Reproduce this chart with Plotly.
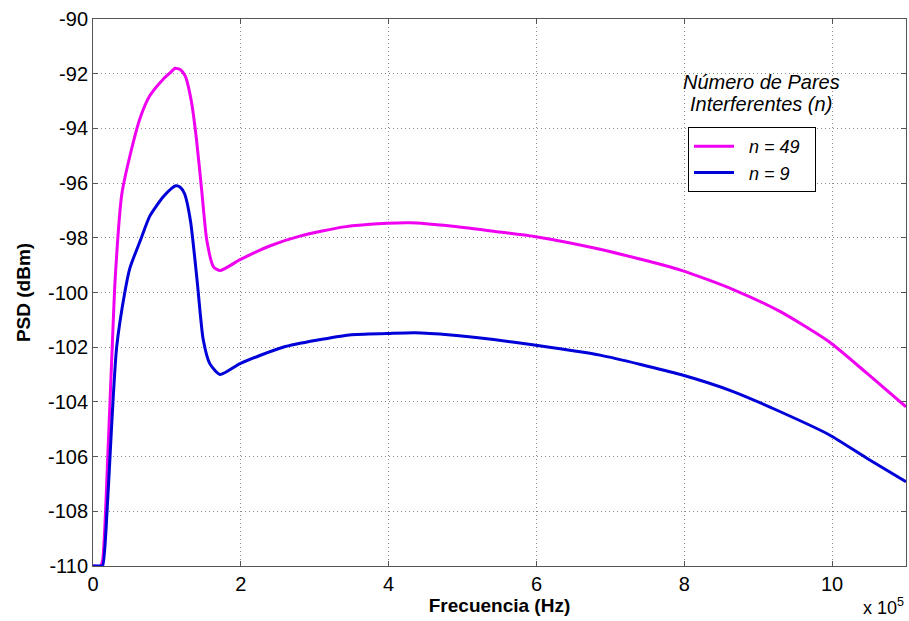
import plotly.graph_objects as go

# Frequency in units of 1e5 Hz (axis shows "x 10^5")
freq_n49 = [0, 0.10, 0.13, 0.17, 0.20, 0.23, 0.26, 0.30, 0.39, 0.50, 0.64, 0.77, 0.95,
            1.05, 1.11, 1.18, 1.25, 1.33, 1.40, 1.47, 1.54, 1.63, 1.72, 1.99, 2.39,
            2.81, 3.40, 3.98, 4.29, 4.84, 5.42, 5.97, 6.86, 7.95, 8.67, 9.30, 9.96,
            10.47, 11.0]
psd_n49 = [-110, -110, -109.8, -108, -106, -104, -102, -99.5, -96.4, -95.0, -93.6, -92.8, -92.2,
           -91.95, -91.8, -91.85, -92.1, -93.0, -94.4, -96.25, -98.1, -99.06, -99.2, -98.8, -98.3,
           -97.93, -97.6, -97.47, -97.45, -97.57, -97.76, -97.95, -98.42, -99.18, -99.9, -100.7, -101.8,
           -102.95, -104.18]

freq_n9 = [0, 0.10, 0.13, 0.19, 0.23, 0.27, 0.32, 0.43, 0.50, 0.64, 0.77, 0.95, 1.06,
           1.12, 1.18, 1.24, 1.32, 1.41, 1.49, 1.58, 1.72, 1.99, 2.57, 3.47, 3.98,
           4.35, 4.84, 5.42, 5.97, 6.86, 7.95, 8.67, 9.30, 9.96, 10.47, 11.0]
psd_n9 = [-110, -110, -110, -108, -106, -104, -102, -100, -99.1, -98.1, -97.2, -96.5, -96.2,
          -96.1, -96.15, -96.4, -97.4, -99.6, -101.7, -102.6, -103.0, -102.6, -102.0, -101.55, -101.5,
          -101.47, -101.55, -101.72, -101.92, -102.29, -103.0, -103.63, -104.36, -105.2, -106.06, -106.92]

series_names = ["\u00a0\u00a0n = 49\u00a0\u00a0", "\u00a0\u00a0n = 9"]
series_colors = ["#f000f0", "#0000d8"]

y_tickvals = [-110, -108, -106, -104, -102, -100, -98, -96, -94, -92, -90]
y_ticktext = ["-110", "-108", "-106", "-104", "-102", "-100", "-98", "-96", "-94", "-92", "-90"]
x_tickvals = [0, 2, 4, 6, 8, 10]
x_ticktext = ["0", "2", "4", "6", "8", "10"]

fig = go.Figure()
fig.add_trace(go.Scatter(x=freq_n49, y=psd_n49, mode="lines", name=series_names[0],
                         line=dict(color=series_colors[0], width=3, shape="spline", smoothing=0.6)))
fig.add_trace(go.Scatter(x=freq_n9, y=psd_n9, mode="lines", name=series_names[1],
                         line=dict(color=series_colors[1], width=3, shape="spline", smoothing=0.6)))

font_family = "Liberation Sans, Arial, sans-serif"
axis_common = dict(
    showline=True, linecolor="#555555", linewidth=1, mirror="ticks",
    ticks="inside", ticklen=5, tickcolor="#555555",
    showgrid=True, gridcolor="#8a8a8a", griddash="1px,3px", gridwidth=1,
    zeroline=False,
    tickfont=dict(family=font_family, size=20, color="black"),
)

fig.update_layout(
    width=909, height=621,
    margin=dict(l=93, r=3, t=19, b=55),
    paper_bgcolor="white", plot_bgcolor="white",
    font=dict(family=font_family, color="black"),
    xaxis=dict(range=[0, 11], tickmode="array", tickvals=x_tickvals, ticktext=x_ticktext,
               title=dict(text="<b>Frecuencia (Hz)</b>", font=dict(size=19), standoff=4),
               **axis_common),
    yaxis=dict(range=[-110, -90], tickmode="array", tickvals=y_tickvals, ticktext=y_ticktext,
               title=dict(text="<b>PSD (dBm)</b>", font=dict(size=19), standoff=12),
               **axis_common),
    legend=dict(x=(688 - 93) / 813, y=1 - (127 - 19) / 547, xanchor="left", yanchor="top",
                bordercolor="black", borderwidth=1, bgcolor="white",
                font=dict(family=font_family, size=18, style="italic"),
                tracegroupgap=0, itemwidth=40),
    showlegend=True,
    annotations=[
        dict(xref="paper", yref="paper", x=(681 - 93) / 813, y=1 - (82 - 19) / 547,
             xanchor="left", yanchor="middle", showarrow=False,
             text="Número de Pares", font=dict(size=20, style="italic")),
        dict(xref="paper", yref="paper", x=(688 - 93) / 813, y=1 - (104 - 19) / 547,
             xanchor="left", yanchor="middle", showarrow=False,
             text="Interferentes (n)", font=dict(size=20, style="italic")),
        dict(xref="paper", yref="paper", x=1.0, y=-(606 - 566) / 547,
             xanchor="right", yanchor="middle", showarrow=False,
             text="x 10<sup>5</sup>", font=dict(size=18)),
    ],
)

fig.write_html("out.html", config={"displayModeBar": False},
               post_script="document.body.style.margin='0';document.body.style.overflow='hidden';")
